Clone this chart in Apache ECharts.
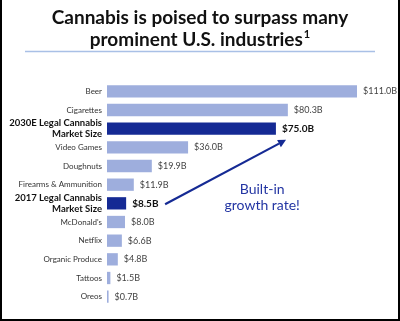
<!DOCTYPE html>
<html><head><meta charset="utf-8">
<script src="https://cdn.jsdelivr.net/npm/echarts@6/dist/echarts.min.js"></script>
<style>
html,body{margin:0;padding:0;background:#fff;}
#wrap{position:absolute;left:0;top:0;width:396px;height:319px;border-left:2px solid #000;border-right:2px solid #000;border-bottom:2px solid #000;}
#c{position:absolute;left:0;top:0;width:400px;height:321px;}
</style></head>
<body><div id="wrap"></div><div id="c"></div>
<script>
const categories = ['Beer','Cigarettes','2030E Legal Cannabis\nMarket Size','Video Games','Doughnuts','Firearms & Ammunition','2017 Legal Cannabis\nMarket Size',"McDonald's",'Netflix','Organic Produce','Tattoos','Oreos'];
const values = [111.0,80.3,75.0,36.0,19.9,11.9,8.5,8.0,6.6,4.8,1.5,0.7];
const highlighted = [false,false,true,false,false,false,true,false,false,false,false,false];
const titleLines = ['Cannabis is poised to surpass many','prominent U.S. industries'];
const footnoteMark = '1';
const noteText = 'Built-in\ngrowth rate!';

const DARK = '#152a94', LIGHT = '#9eaedd', FONT = 'Lato';
const chart = echarts.init(document.getElementById('c'));
const option = {
  animation:false,
  textStyle:{fontFamily:FONT},
  title:{text:'{t|'+titleLines[0]+'}\n{t|'+titleLines[1]+'}{s|'+footnoteMark+'}', left:'center', top:7, padding:0,
    textStyle:{rich:{t:{fontFamily:FONT,fontSize:19,fontWeight:'bold',color:'#111',lineHeight:22},
      s:{fontFamily:FONT,fontSize:11,fontWeight:'bold',color:'#111',verticalAlign:'top',lineHeight:16,padding:[0,0,0,1]}}}},
  grid:{left:107,right:43,top:82,bottom:15},
  xAxis:{type:'value',min:0,max:111,show:false},
  yAxis:{type:'category',inverse:true,data:categories,
    axisLine:{show:false},axisTick:{show:false},
    axisLabel:{margin:5,interval:0,formatter:(v,i)=>highlighted[i]?'{h|'+v.replace('\n','}\n{h|')+'}':'{n|'+v+'}',
      rich:{n:{fontSize:8,color:'#333',fontFamily:FONT},h:{fontSize:9.5,fontWeight:'bold',color:'#111',fontFamily:FONT,lineHeight:11}}}},
  series:[{type:'bar',barWidth:'66%',
    data:values.map((v,i)=>({value:v,itemStyle:{color:highlighted[i]?DARK:LIGHT},
      label:{fontWeight:highlighted[i]?'bold':'normal',fontSize:highlighted[i]?10:9,color:highlighted[i]?'#111':'#444'}})),
    label:{show:true,position:'right',distance:6,fontFamily:FONT,formatter:p=>'$'+p.value.toFixed(1)+'B'}}]
};
chart.setOption(option);
function px(val,idx){
  const x = chart.convertToPixel({xAxisIndex:0},val);
  const y0 = chart.convertToPixel({yAxisIndex:0},Math.floor(idx));
  const y1 = chart.convertToPixel({yAxisIndex:0},Math.floor(idx)+1);
  return [x, y0+(y1-y0)*(idx-Math.floor(idx))];
}
const a = px(25.8,6.05), b = px(79.5,2.6), t = px(68.9,5.7);
const ang = Math.atan2(b[1]-a[1], b[0]-a[0]);
const L=8, W=4;
const back=[b[0]-L*Math.cos(ang), b[1]-L*Math.sin(ang)];
const p1=[back[0]+W*Math.sin(ang), back[1]-W*Math.cos(ang)];
const p2=[back[0]-W*Math.sin(ang), back[1]+W*Math.cos(ang)];
chart.setOption({graphic:[
  {type:'line',shape:{x1:25,y1:51.5,x2:375,y2:51.5},style:{stroke:'#a9c0e6',lineWidth:1.5}},
  {type:'line',shape:{x1:a[0],y1:a[1],x2:back[0],y2:back[1]},style:{stroke:DARK,lineWidth:2.2}},
  {type:'polygon',shape:{points:[b,p1,p2]},style:{fill:DARK}},
  {type:'text',x:t[0],y:t[1],style:{text:noteText,fill:'#2335a3',font:'14px '+FONT,textAlign:'center',textVerticalAlign:'middle',lineHeight:16}}
]});
</script></body></html>
